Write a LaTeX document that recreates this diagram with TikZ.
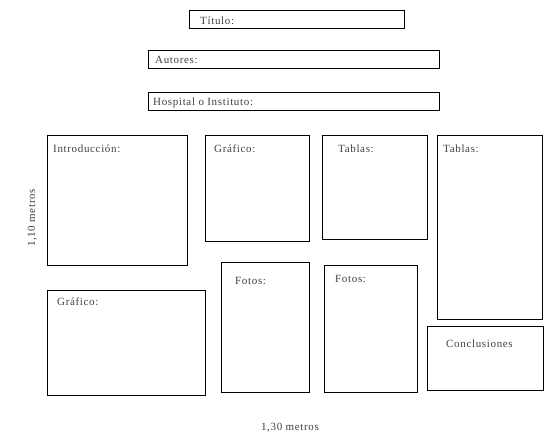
\documentclass[tikz,border=0pt]{standalone}
\usepackage{fontspec}
\setmainfont[LetterSpace=6]{Liberation Serif}
\tikzset{
  panel/.style={draw,line width=0.8pt},
  lbl/.style={anchor=base west,inner sep=0pt,text=black!75,font=\fontsize{11}{13}\selectfont}
}
\begin{document}
\begin{tikzpicture}[x=1pt,y=-1pt]
\useasboundingbox (0,0) rectangle (554,434);
% cabecera
\draw[panel] (189,10) rectangle (404,28);
\draw[panel] (148,50) rectangle (439,68);
\draw[panel] (148,92) rectangle (439,110);
\node[lbl] (titulo) at (200,24) {Título:};
\node[lbl] (autores) at (155,63) {Autores:};
\node[lbl] (hospital) at (153,105) {Hospital o Instituto:};
% paneles
\draw[panel] (47,135) rectangle (187,265);
\draw[panel] (205,135) rectangle (309,241);
\draw[panel] (322,135) rectangle (427,239);
\draw[panel] (437,135) rectangle (542,319);
\draw[panel] (47,290) rectangle (205,395);
\draw[panel] (221,262) rectangle (309,392);
\draw[panel] (324,265) rectangle (417,392);
\draw[panel] (427,326) rectangle (543,390);
\node[lbl] (intro) at (53,152) {Introducción:};
\node[lbl] (graf1) at (214,152) {Gráfico:};
\node[lbl] (tab1) at (338,152) {Tablas:};
\node[lbl] (tab2) at (443,152) {Tablas:};
\node[lbl] (graf2) at (57,305) {Gráfico:};
\node[lbl] (fotos1) at (235,284) {Fotos:};
\node[lbl] (fotos2) at (335,282) {Fotos:};
\node[lbl] (concl) at (446,347) {Conclusiones};
% medidas
\node[lbl,anchor=base,rotate=90] (alto) at (35,218) {1,10 metros};
\node[lbl,anchor=base] (ancho) at (290,430) {1,30 metros};
\end{tikzpicture}
\end{document}
